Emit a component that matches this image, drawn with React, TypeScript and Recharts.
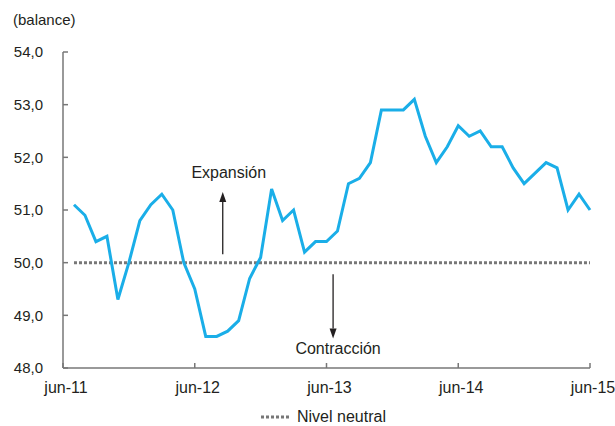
import { LineChart, Line, XAxis, YAxis, Legend, ReferenceLine } from "recharts";

// monthly balance, jul-11 .. jun-15
const balance = [
  51.1, 50.9, 50.4, 50.5, 49.3, 50.0, 50.8, 51.1, 51.3, 51.0, 50.0, 49.5,
  48.6, 48.6, 48.7, 48.9, 49.7, 50.1, 51.4, 50.8, 51.0, 50.2, 50.4, 50.4,
  50.6, 51.5, 51.6, 51.9, 52.9, 52.9, 52.9, 53.1, 52.4, 51.9, 52.2, 52.6,
  52.4, 52.5, 52.2, 52.2, 51.8, 51.5, 51.7, 51.9, 51.8, 51.0, 51.3, 51.0
];
const NEUTRAL = 50;
const tickMonths = [0, 12, 24, 36, 48];
const tickLabels = ["jun-11", "jun-12", "jun-13", "jun-14", "jun-15"];
const yTicks = [48, 49, 50, 51, 52, 53, 54];

const data = balance.map((v, i) => ({ m: i + 1, balance: v, neutral: NEUTRAL }));

const TEXT = "#231f20";
const AXIS = "#777";

function Arrow({ x1, y1, x2, y2, text, textDy }: any) {
  const dir = y2 < y1 ? -1 : 1;
  const head = 10;
  return (
    <g>
      <line x1={x1} y1={y1} x2={x2} y2={y2 - dir * head} stroke={TEXT} strokeWidth={1.3} />
      <polygon
        points={`${x2},${y2} ${x2 - 3.5},${y2 - dir * head} ${x2 + 3.5},${y2 - dir * head}`}
        fill={TEXT}
      />
      <text x={x2 + (dir < 0 ? 6 : 5)} y={y2 + textDy} textAnchor="middle" fill={TEXT} fontSize={16}>
        {text}
      </text>
    </g>
  );
}

function LegendContent({ payload }: any) {
  const items = (payload || []).filter((p: any) => p.type !== "none");
  return (
    <div
      style={{
        height: 28,
        paddingTop: 10,
        paddingLeft: 261,
        boxSizing: "border-box",
        display: "flex",
        alignItems: "center",
        fontSize: 16,
        color: TEXT
      }}
    >
      {items.map((p: any) => (
        <span key={p.value} style={{ display: "flex", alignItems: "center" }}>
          <svg width={30} height={6} style={{ marginRight: 6 }}>
            <line x1={0} y1={3} x2={28} y2={3} stroke={AXIS} strokeWidth={3} strokeDasharray="3 2" />
          </svg>
          {p.value}
        </span>
      ))}
    </div>
  );
}

export default function App() {
  return (
    <div
      style={{
        position: "absolute",
        left: 0,
        top: 0,
        width: 615,
        height: 426,
        background: "#fff",
        fontFamily: "'Liberation Sans', Arial, sans-serif"
      }}
    >
      <div style={{ position: "absolute", left: 13, top: 11, fontSize: 15, color: TEXT }}>
        (balance)
      </div>
      <LineChart
        width={615}
        height={426}
        data={data}
        margin={{ top: 52, right: 25, left: 0, bottom: 0 }}
      >
        <XAxis
          dataKey="m"
          type="number"
          domain={[0, 48]}
          ticks={tickMonths}
          tickFormatter={(v: number) => tickLabels[tickMonths.indexOf(v)]}
          height={30}
          stroke={AXIS}
          strokeWidth={1.5}
          tickSize={-5}
          tickMargin={19}
          tick={{ fill: TEXT, fontSize: 16, dx: 3 }}
        />
        <YAxis
          type="number"
          domain={[48, 54]}
          ticks={yTicks}
          width={63}
          tickFormatter={(v: number) => v.toFixed(1).replace(".", ",")}
          stroke={AXIS}
          strokeWidth={1.5}
          tickSize={-5}
          tickMargin={25}
          tick={{ fill: TEXT, fontSize: 15 }}
        />
        <Line
          dataKey="neutral"
          name="Nivel neutral"
          stroke={AXIS}
          strokeWidth={3}
          strokeDasharray="3 2"
          dot={false}
          activeDot={false}
          isAnimationActive={false}
        />
        <Line
          dataKey="balance"
          name="balance"
          legendType="none"
          stroke="#1aaee8"
          strokeWidth={3}
          dot={false}
          activeDot={false}
          isAnimationActive={false}
        />
        <ReferenceLine
          segment={[{ x: 14.55, y: 50.16 }, { x: 14.55, y: 51.34 }]}
          shape={(p: any) => <Arrow {...p} text="Expansión" textDy={-14} />}
        />
        <ReferenceLine
          segment={[{ x: 24.6, y: 49.78 }, { x: 24.6, y: 48.56 }]}
          shape={(p: any) => <Arrow {...p} text="Contracción" textDy={15} />}
        />
        <Legend verticalAlign="bottom" wrapperStyle={{ left: 0, width: 615 }} content={LegendContent} />
      </LineChart>
    </div>
  );
}
